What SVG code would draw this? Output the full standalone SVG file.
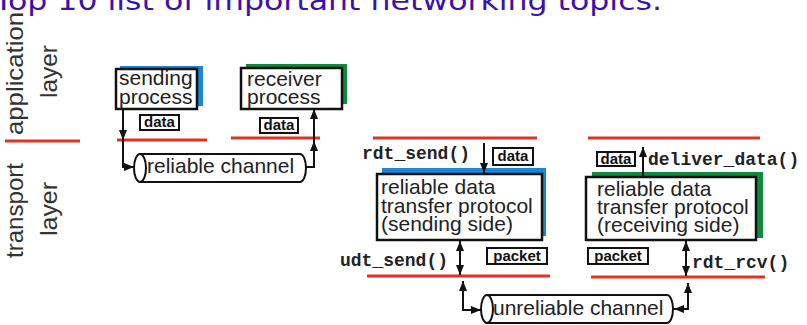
<svg xmlns="http://www.w3.org/2000/svg" width="807" height="325" viewBox="0 0 807 325">
  <style>
    .title { font-family: "DejaVu Sans", "Liberation Sans", sans-serif; font-size: 27px; fill: #3a12b0; }
    .layer { font-family: "Liberation Sans", Arial, sans-serif; font-size: 24px; fill: #333; }
    .txt { font-family: "Liberation Sans", Arial, sans-serif; font-size: 21px; fill: #222; }
    .tag { font-family: "Liberation Sans", Arial, sans-serif; font-size: 15px; font-weight: bold; fill: #111; text-anchor: middle; }
    .code { font-family: "Liberation Mono", "Courier New", monospace; font-size: 18px; font-weight: bold; fill: #222; }
    .box { fill: #fff; stroke: #111; stroke-width: 2.5; }
    .tagbox { fill: #fff; stroke: #111; stroke-width: 2; }
    .red { stroke: #e03222; stroke-width: 3; fill: none; }
    .wire { stroke: #111; stroke-width: 2; fill: none; }
    .pipe { fill: #fff; stroke: #111; stroke-width: 2; }
  </style>
  <defs>
    <marker id="arrow" viewBox="0 0 10 8" refX="10" refY="4" markerWidth="10" markerHeight="8" markerUnits="userSpaceOnUse" orient="auto-start-reverse">
      <path d="M0,0 L10,4 L0,8 z" fill="#111"/>
    </marker>
  </defs>

  <text class="title" x="-6" y="10" textLength="668" lengthAdjust="spacingAndGlyphs">Top 10 list of important networking topics.</text>

  <!-- layer labels -->
  <g id="layer-labels">
    <text class="layer" transform="translate(23,135) rotate(-90)" textLength="123" lengthAdjust="spacingAndGlyphs">application</text>
    <text class="layer" transform="translate(57,98) rotate(-90)" textLength="53" lengthAdjust="spacingAndGlyphs">layer</text>
    <line class="red" x1="5" y1="141" x2="80" y2="141"/>
    <text class="layer" transform="translate(23,258) rotate(-90)" textLength="95" lengthAdjust="spacingAndGlyphs">transport</text>
    <text class="layer" transform="translate(57,236) rotate(-90)" textLength="54" lengthAdjust="spacingAndGlyphs">layer</text>
  </g>

  <!-- layer boundaries -->
  <g id="boundaries">
    <line class="red" x1="117" y1="140" x2="207" y2="140"/>
    <line class="red" x1="231" y1="138" x2="320" y2="138"/>
    <line class="red" x1="373" y1="138" x2="537" y2="138"/>
    <line class="red" x1="588" y1="138" x2="760" y2="138"/>
    <line class="red" x1="367" y1="276" x2="550" y2="276"/>
    <line class="red" x1="591" y1="277" x2="765" y2="277"/>
  </g>

  <g id="sending-process">
    <rect x="120" y="66" width="83" height="40" fill="#1a86d8"/>
    <rect class="box" x="116" y="69" width="81" height="40"/>
    <text class="txt" x="119" y="85">sending</text>
    <text class="txt" x="119" y="104">process</text>
  </g>
  <g id="sending-data">
    <rect class="tagbox" x="140" y="115" width="39" height="15"/>
    <text class="tag" x="159.5" y="127">data</text>
  </g>

  <g id="receiver-process">
    <rect x="246" y="64" width="101" height="40" fill="#0f8a3c"/>
    <rect class="box" x="241" y="68" width="101" height="41"/>
    <text class="txt" x="247" y="86">receiver</text>
    <text class="txt" x="247" y="104">process</text>
  </g>
  <g id="receiver-data">
    <rect class="tagbox" x="260" y="118" width="38" height="15"/>
    <text class="tag" x="279" y="130">data</text>
  </g>

  <g id="reliable-channel">
    <path class="pipe" d="M140,154 L300,154 A6,14 0 0 1 300,182 L140,182 Z"/>
    <ellipse class="pipe" cx="140" cy="168" rx="6" ry="14"/>
    <text class="txt" x="147" y="173">reliable channel</text>
  </g>

  <g id="rdt-sender">
    <rect x="382" y="168" width="164" height="68" fill="#1a86d8"/>
    <rect class="box" x="377" y="174" width="165" height="66"/>
    <text class="txt" x="381" y="194">reliable data</text>
    <text class="txt" x="381" y="213">transfer protocol</text>
    <text class="txt" x="381" y="231">(sending side)</text>
  </g>
  <g id="rdt-send-label">
    <text class="code" x="362" y="159">rdt_send()</text>
    <rect class="tagbox" x="493" y="148" width="40" height="17"/>
    <text class="tag" x="513" y="161">data</text>
  </g>
  <g id="udt-send-label">
    <text class="code" x="340" y="266">udt_send()</text>
    <rect class="tagbox" x="487" y="248" width="60" height="16"/>
    <text class="tag" x="517" y="261">packet</text>
  </g>

  <g id="rdt-receiver">
    <rect x="592" y="172" width="171" height="66" fill="#0f8a3c"/>
    <rect class="box" x="586" y="177" width="170" height="63"/>
    <text class="txt" x="597" y="196">reliable data</text>
    <text class="txt" x="597" y="214">transfer protocol</text>
    <text class="txt" x="597" y="232">(receiving side)</text>
  </g>
  <g id="deliver-data-label">
    <rect class="tagbox" x="597" y="152" width="38" height="14"/>
    <text class="tag" x="616" y="164">data</text>
    <text class="code" x="648" y="165">deliver_data()</text>
  </g>
  <g id="rdt-rcv-label">
    <rect class="tagbox" x="588" y="248" width="60" height="16"/>
    <text class="tag" x="618" y="261">packet</text>
    <text class="code" x="692" y="268">rdt_rcv()</text>
  </g>

  <g id="unreliable-channel">
    <path class="pipe" d="M487,295 L667,295 A6,14 0 0 1 667,323 L487,323 Z"/>
    <ellipse class="pipe" cx="487" cy="309" rx="6" ry="14"/>
    <text class="txt" x="493" y="315">unreliable channel</text>
  </g>

  <!-- connectors -->
  <g id="connectors">
    <path class="wire" d="M123,109 L123,140" marker-end="url(#arrow)"/>
    <path class="wire" d="M123,140 L123,167 L134,167" marker-end="url(#arrow)"/>
    <path class="wire" d="M306,167 L314,167 L314,141" marker-end="url(#arrow)"/>
    <path class="wire" d="M314,141 L314,109" marker-end="url(#arrow)"/>
    <path class="wire" d="M484,143 L484,173" marker-end="url(#arrow)"/>
    <path class="wire" d="M643,177 L643,147" marker-end="url(#arrow)"/>
    <path class="wire" d="M460,241 L460,275" marker-start="url(#arrow)" marker-end="url(#arrow)"/>
    <path class="wire" d="M686,241 L686,276" marker-start="url(#arrow)" marker-end="url(#arrow)"/>
    <path class="wire" d="M463,281 L463,310 L481,310" marker-start="url(#arrow)" marker-end="url(#arrow)"/>
    <path class="wire" d="M688,283 L688,309 L674,309" marker-start="url(#arrow)" marker-end="url(#arrow)"/>
  </g>
</svg>
